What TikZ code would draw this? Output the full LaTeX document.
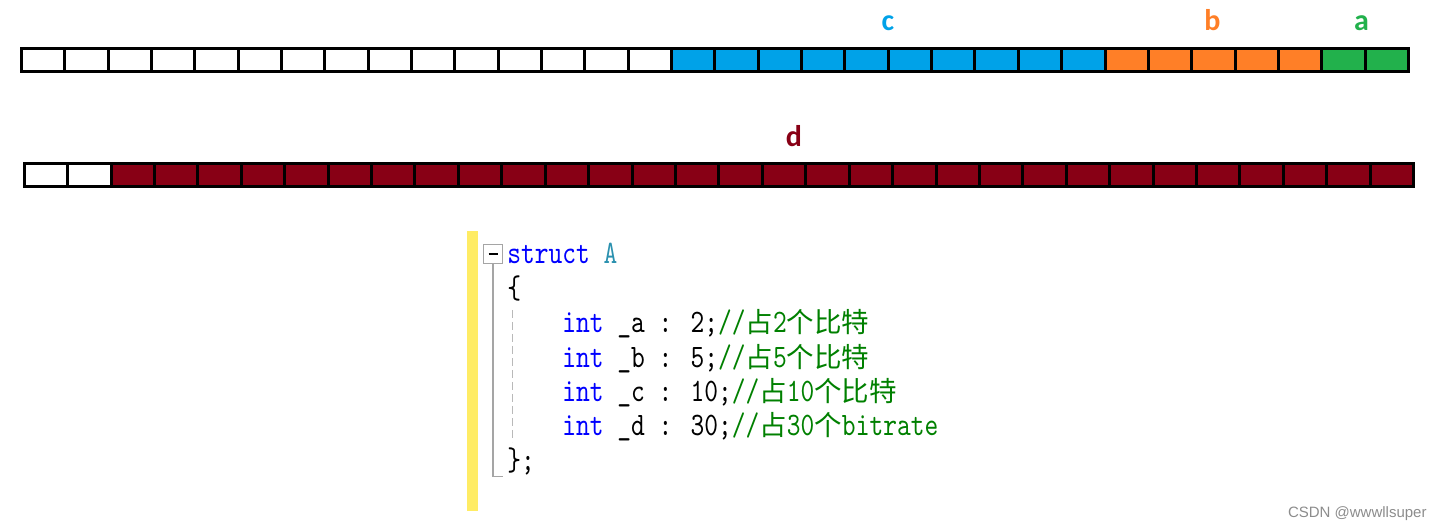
\documentclass[tikz,border=0pt]{standalone}
\usepackage{fontspec}
\usetikzlibrary{positioning}
\newfontfamily\cjk{Noto Sans CJK SC}
\newfontfamily\labelfont{Carlito}
\newfontfamily\codefam{lmmono10-regular.otf}[FakeStretch=0.8]
\newfontfamily\markfont{Liberation Sans}
\definecolor{cblue}{RGB}{0,162,232}
\definecolor{borange}{RGB}{255,127,39}
\definecolor{agreen}{RGB}{34,177,76}
\definecolor{dred}{RGB}{136,0,21}
\definecolor{kwblue}{RGB}{0,0,255}
\definecolor{typeteal}{RGB}{43,145,175}
\definecolor{cmtgreen}{RGB}{0,128,0}
\definecolor{baryellow}{RGB}{255,236,100}
\definecolor{foldgray}{RGB}{165,165,165}
\definecolor{dashgray}{RGB}{185,185,185}
\definecolor{markgray}{RGB}{140,140,140}
\newcommand{\kw}[1]{\textcolor{kwblue}{#1}}
\newcommand{\cmt}[1]{\textcolor{cmtgreen}{#1}}
\newcommand{\zh}[1]{{\cjk\fontsize{13.75pt}{16pt}\selectfont #1}}
\tikzset{
  bit/.style={rectangle, draw=black, line width=1.5pt, inner sep=0pt, outer sep=0pt, minimum width=21.67pt, minimum height=11.5pt},
  fieldlabel/.style={anchor=base, inner sep=0pt, font=\labelfont\bfseries\fontsize{15pt}{18pt}\selectfont},
  codeline/.style={anchor=base west, inner sep=0pt, font=\codefam\fontsize{16.37pt}{20pt}\selectfont}
}
\begin{document}
\begin{tikzpicture}[x=0.5pt, y=-0.5pt]
  \useasboundingbox (0,0) rectangle (1442,529);

  % first layout: a, b, c
  \foreach \i in {0,...,14}
    \node (t\i) [bit, fill=white] at ({21.5+43.34*(\i+0.5)}, 60.5) {};
  \foreach \i in {15,...,24}
    \node (t\i) [bit, fill=cblue] at ({21.5+43.34*(\i+0.5)}, 60.5) {};
  \foreach \i in {25,...,29}
    \node (t\i) [bit, fill=borange] at ({21.5+43.34*(\i+0.5)}, 60.5) {};
  \foreach \i in {30,31}
    \node (t\i) [bit, fill=agreen] at ({21.5+43.34*(\i+0.5)}, 60.5) {};

  \node (lc) [fieldlabel, text=cblue] at (888,31) {c};
  \node (lb) [fieldlabel, text=borange] at (1212.5,31) {b};
  \node (la) [fieldlabel, text=agreen] at (1361.5,31) {a};

  % second layout: d
  \foreach \i in {0,1}
    \node (u\i) [bit, minimum width=21.71pt, minimum height=11.75pt, fill=white] at ({24.2+43.42*(\i+0.5)}, 175) {};
  \foreach \i in {2,...,31}
    \node (u\i) [bit, minimum width=21.71pt, minimum height=11.75pt, fill=dred] at ({24.2+43.42*(\i+0.5)}, 175) {};

  \node (ld) [fieldlabel, text=dred] at (794,147) {d};

  % code
  \fill[baryellow] (467,231) rectangle (477.5,511);
  \node (fold) [draw=foldgray, line width=0.5pt, minimum size=9.5pt, inner sep=0pt] at (493,254.5) {};
  \draw[line width=1pt] (488.5,254.5) -- (497.5,254.5);
  \coordinate (foldend) at (502.5,476.5);
  \draw[foldgray, line width=0.7pt] (fold.south) |- (foldend);
  \draw[dashgray, line width=0.6pt, dash pattern=on 4pt off 2pt] (512.7,310) -- (512.7,442);

  \node (l1) [codeline] at (507,264) {\kw{struct} \textcolor{typeteal}{A}};
  \node (l2) [codeline] at (507,298.5) {\{};
  \node (fa) [codeline] at (562,333) {\kw{int} \_a : 2;\cmt{//\zh{占}2\zh{个比特}}};
  \node (fb) [codeline] at (562,367.5) {\kw{int} \_b : 5;\cmt{//\zh{占}5\zh{个比特}}};
  \node (fc) [codeline] at (562,401.8) {\kw{int} \_c : 10;\cmt{//\zh{占}10\zh{个比特}}};
  \node (fd) [codeline] at (562,436) {\kw{int} \_d : 30;\cmt{//\zh{占}30\zh{个}bitrate}};
  \node (l7) [codeline] at (507,470.5) {\};};

  \node (mark) [anchor=base east, inner sep=0pt, text=markgray, font=\markfont\fontsize{7.5pt}{9pt}\selectfont] at (1427,517) {CSDN @wwwllsuper};

\end{tikzpicture}
\end{document}
